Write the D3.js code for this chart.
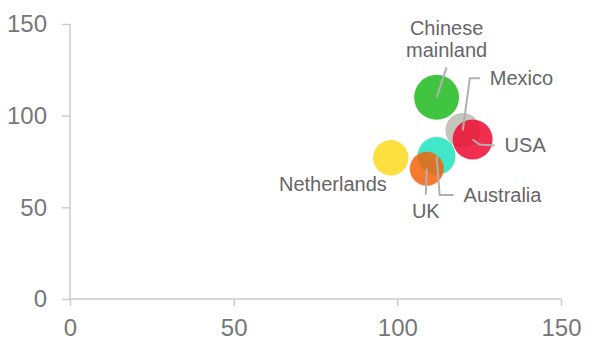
<!DOCTYPE html>
<html>
<head>
<meta charset="utf-8">
<script src="https://cdn.jsdelivr.net/npm/d3@7/dist/d3.min.js"></script>
<style>
  html, body { margin: 0; padding: 0; background: #fff; }
  svg { display: block; font-family: "Liberation Sans", Arial, sans-serif; }
</style>
</head>
<body>
<svg id="chart" width="608" height="360"></svg>
<script>
// ---- data ----
const countries = ["Chinese mainland", "Mexico", "USA", "Netherlands", "Australia", "UK"];
const xValues = [112, 120, 123, 98, 112, 109];
const yValues = [110, 92, 87, 77, 78, 71];
const sizeValues = [100, 60, 79, 62, 71, 57];
const xTicks = [0, 50, 100, 150];
const yTicks = [0, 50, 100, 150];

// ---- styles / layout ----
const colors = ["#20bb20", "#bbbbaf", "#ed0b31", "#fdda1e", "#1ee4be", "#f3620b"];
// label layout relative to bubble centre: leader polyline points, text anchor
const labelLayout = {
  "Chinese mainland": { line: [[10, -30]], text: { dx: 10, dy: -62, anchor: "middle", lines: ["Chinese", "mainland"], lh: 22 } },
  "Mexico": { line: [[7, -52], [17, -52]], text: { dx: 27, dy: -45, anchor: "start" } },
  "USA": { line: [[7, 5], [22, 6]], text: { dx: 32, dy: 12, anchor: "start" } },
  "Netherlands": { line: [], text: { dx: -4, dy: 33, anchor: "end" } },
  "Australia": { line: [[3, 39], [17, 39]], text: { dx: 27, dy: 46, anchor: "start" } },
  "UK": { line: [[-1, 26]], text: { dx: -1, dy: 49, anchor: "middle" } }
};

const svg = d3.select("#chart");
const x = d3.scaleLinear().domain([0, 150]).range([70, 561]);
const y = d3.scaleLinear().domain([0, 150]).range([299, 24]);
const r = d3.scaleSqrt().domain([0, 100]).range([0, 22.5]);

// axes
const xAxis = svg.append("g").attr("transform", "translate(0,299)")
  .call(d3.axisBottom(x).tickValues(xTicks).tickSize(7).tickPadding(13).tickFormat(d3.format("d")));
const yAxis = svg.append("g").attr("transform", "translate(70,0)")
  .call(d3.axisLeft(y).tickValues(yTicks).tickSize(8).tickPadding(15).tickFormat(d3.format("d")));
[xAxis, yAxis].forEach(g => {
  g.select(".domain").attr("stroke", "#cccccc").attr("stroke-width", 1.5);
  g.selectAll(".tick line").attr("stroke", "#cccccc").attr("stroke-width", 1.5);
  g.selectAll(".tick text").attr("fill", "#777777").style("font-size", "24px")
    .style("font-family", "'Liberation Sans', Arial, sans-serif");
});
yAxis.select(".domain").attr("d", "M0,299V24");
yAxis.selectAll(".tick line").attr("x2", -8);
xAxis.select(".domain").attr("d", "M70,0H561");

// bubbles
const data = countries.map((c, i) => ({ name: c, x: xValues[i], y: yValues[i], s: sizeValues[i], color: colors[i] }));
svg.append("g").selectAll("circle").data(data).join("circle")
  .attr("cx", d => x(d.x)).attr("cy", d => y(d.y)).attr("r", d => r(d.s))
  .attr("fill", d => d.color).attr("fill-opacity", 0.85);

// leader lines
const lines = svg.append("g");
data.forEach(d => {
  const L = labelLayout[d.name];
  if (!L.line.length) return;
  const cx = x(d.x), cy = y(d.y);
  const pts = [[cx, cy]].concat(L.line.map(p => [cx + p[0], cy + p[1]]));
  lines.append("path").attr("d", d3.line()(pts))
    .attr("fill", "none").attr("stroke", "#b0b0b0").attr("stroke-width", 2);
});

// labels
const labels = svg.append("g");
data.forEach(d => {
  const L = labelLayout[d.name].text;
  const cx = x(d.x), cy = y(d.y);
  const t = labels.append("text")
    .attr("x", cx + L.dx).attr("y", cy + L.dy)
    .attr("text-anchor", L.anchor)
    .attr("fill", "#666666").style("font-size", "20px");
  const ls = L.lines || [d.name];
  ls.forEach((s, i) => {
    t.append("tspan").attr("x", cx + L.dx).attr("dy", i === 0 ? 0 : L.lh).text(s);
  });
});
</script>
</body>
</html>
